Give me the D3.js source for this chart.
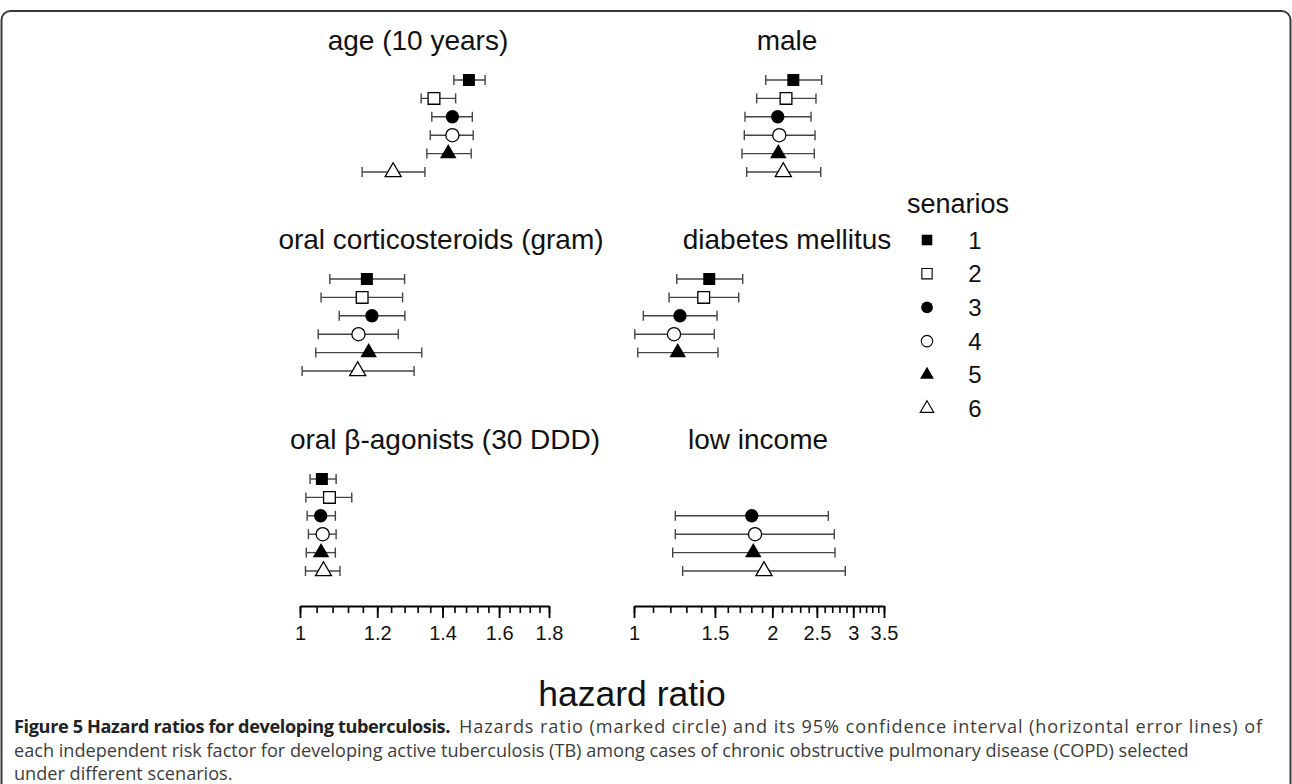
<!DOCTYPE html>
<html>
<head>
<meta charset="utf-8">
<script src="https://cdn.jsdelivr.net/npm/d3@7"></script>
<style>
  body { margin: 0; background: #fff; }
  svg text { font-family: "Liberation Sans", Arial, sans-serif; }
  svg text.caption { font-family: "Open Sans", "Noto Sans", sans-serif; }
</style>
</head>
<body>
<div class="chart"></div>
<script>
// scenario labels and risk factor names
var scenarios = ["1", "2", "3", "4", "5", "6"];
var factors = ["age (10 years)", "male", "oral corticosteroids (gram)",
  "diabetes mellitus", "oral \u03b2-agonists (30 DDD)", "low income"];

// [lower 95% CI, hazard ratio, upper 95% CI] per scenario (null = not in model)
var ageCI = [[1.438, 1.490, 1.548], [1.331, 1.372, 1.444], [1.365, 1.433, 1.502],
  [1.360, 1.433, 1.505], [1.349, 1.419, 1.498], [1.158, 1.246, 1.343]];
var maleCI = [[1.935, 2.222, 2.561], [1.849, 2.142, 2.489], [1.744, 2.055, 2.428],
  [1.738, 2.071, 2.477], [1.718, 2.061, 2.468], [1.759, 2.113, 2.549]];
var steroidCI = [[1.073, 1.171, 1.280], [1.051, 1.158, 1.274], [1.097, 1.185, 1.281],
  [1.044, 1.148, 1.261], [1.038, 1.176, 1.333], [1.005, 1.146, 1.309]];
var diabetesCI = [[1.239, 1.458, 1.724], [1.192, 1.418, 1.690], [1.048, 1.259, 1.516],
  [1.004, 1.222, 1.495], [1.019, 1.245, 1.523], null];
var agonistCI = [[1.024, 1.053, 1.089], [1.014, 1.072, 1.130], [1.017, 1.050, 1.087],
  [1.020, 1.055, 1.089], [1.015, 1.051, 1.087], [1.013, 1.057, 1.099]];
var incomeCI = [null, null, [1.230, 1.804, 2.648], [1.230, 1.834, 2.728],
  [1.214, 1.818, 2.738], [1.276, 1.918, 2.883]];

// axis ticks
var leftMajor = [1, 1.2, 1.4, 1.6, 1.8];
var leftMinor = d3.range(1, 1.8001, 0.04);
var rightMajor = [1, 1.5, 2, 2.5, 3, 3.5];
var rightMinor = d3.range(1, 3.5001, 0.1);

var captionBold = "Figure 5 Hazard ratios for developing tuberculosis.";
var captionLines = [
  "Hazards ratio (marked circle) and its 95% confidence interval (horizontal error lines) of",
  "each independent risk factor for developing active tuberculosis (TB) among cases of chronic obstructive pulmonary disease (COPD) selected",
  "under different scenarios."
];

var allCI = [ageCI, maleCI, steroidCI, diabetesCI, agonistCI, incomeCI];

var svg = d3.select(".chart").append("svg")
  .attr("width", 1292)
  .attr("height", 784);

// page frame
svg.append("rect")
  .attr("x", 1.5).attr("y", 11)
  .attr("width", 1289).attr("height", 900)
  .attr("rx", 9)
  .attr("fill", "none")
  .attr("stroke", "#3a3a3a")
  .attr("stroke-width", 2);

var xLeft = d3.scaleLog().domain([1, 1.8]).range([300, 549]);
var xRight = d3.scaleLog().domain([1, 3.5]).range([634, 884]);
var rowTops = [80, 279, 479];
var titleX = [418, 787, 441, 787, 445, 758];

var yRow = d3.scalePoint().domain(scenarios).range([0, 92]);

var shapes = [d3.symbolSquare, d3.symbolSquare, d3.symbolCircle, d3.symbolCircle,
  d3.symbolTriangle, d3.symbolTriangle];
var filled = [true, false, true, false, true, false];
var plotSize = [144, 138, 140, 136, 118, 112];
var legendSize = [112, 106, 108, 104, 84, 80];

allCI.forEach(function(ci, i) {
  var x = i % 2 === 0 ? xLeft : xRight;
  var top = rowTops[Math.floor(i / 2)];
  var panel = svg.append("g").attr("transform", `translate(0, ${top})`);

  panel.append("text")
    .attr("x", titleX[i])
    .attr("y", -30)
    .attr("text-anchor", "middle")
    .attr("font-size", 28)
    .attr("fill", "#111")
    .text(factors[i]);

  var rows = ci.map(function(d, j) { return { s: scenarios[j], j: j, v: d }; })
    .filter(function(d) { return d.v !== null; });

  var g = panel.selectAll(".row").data(rows).enter().append("g")
    .attr("transform", d => `translate(0, ${yRow(d.s)})`);

  g.append("line")
    .attr("x1", d => x(d.v[0])).attr("x2", d => x(d.v[2]))
    .attr("stroke", "#444").attr("stroke-width", 1.4);
  g.append("line")
    .attr("x1", d => x(d.v[0])).attr("x2", d => x(d.v[0]))
    .attr("y1", -5).attr("y2", 5)
    .attr("stroke", "#444").attr("stroke-width", 1.4);
  g.append("line")
    .attr("x1", d => x(d.v[2])).attr("x2", d => x(d.v[2]))
    .attr("y1", -5).attr("y2", 5)
    .attr("stroke", "#444").attr("stroke-width", 1.4);

  g.append("path")
    .attr("transform", d => `translate(${x(d.v[1])}, 0)`)
    .attr("d", d => d3.symbol().type(shapes[d.j]).size(plotSize[d.j])())
    .attr("fill", d => filled[d.j] ? "#000" : "#fff")
    .attr("stroke", "#000")
    .attr("stroke-width", d => filled[d.j] ? 0 : 1.3);
});

// bottom axes
function drawAxis(scale, major, minor) {
  var g = svg.append("g").attr("transform", "translate(0, 606)");
  g.append("g")
    .call(d3.axisBottom(scale).tickValues(minor).tickSize(7).tickSizeOuter(0).tickFormat(""))
    .call(a => a.select(".domain").remove())
    .selectAll("line").attr("stroke-width", 1.6);
  var maj = g.append("g")
    .call(d3.axisBottom(scale).tickValues(major).tickSize(12).tickSizeOuter(0)
      .tickPadding(8).tickFormat(d3.format("")));
  maj.select(".domain").attr("stroke-width", 2.2);
  maj.selectAll("line").attr("stroke-width", 1.8);
  maj.selectAll("text")
    .attr("font-size", 20)
    .attr("fill", "#111")
    .attr("font-family", "Liberation Sans, Arial, sans-serif");
}
drawAxis(xLeft, leftMajor, leftMinor);
drawAxis(xRight, rightMajor, rightMinor);

svg.append("text")
  .attr("x", 632)
  .attr("y", 706)
  .attr("text-anchor", "middle")
  .attr("font-size", 35.5)
  .attr("fill", "#111")
  .text("hazard ratio");

// legend
var legend = svg.append("g");
legend.append("text")
  .attr("x", 907).attr("y", 213)
  .attr("font-size", 27)
  .attr("fill", "#111")
  .text("senarios");

var yLegend = d3.scalePoint().domain(scenarios).range([240, 408.5]);
var item = legend.selectAll(".item").data(scenarios).enter().append("g")
  .attr("transform", d => `translate(0, ${yLegend(d)})`);
item.append("path")
  .attr("transform", "translate(927, 0)")
  .attr("d", (d, j) => d3.symbol().type(shapes[j]).size(legendSize[j])())
  .attr("fill", (d, j) => filled[j] ? "#000" : "#fff")
  .attr("stroke", "#000")
  .attr("stroke-width", (d, j) => filled[j] ? 0 : 1.1);
item.append("text")
  .attr("x", 975).attr("y", 8.5)
  .attr("text-anchor", "middle")
  .attr("font-size", 24)
  .attr("fill", "#111")
  .text(d => d);

// figure caption
var captionY = [733, 757, 780];
var cap = svg.selectAll(".caption").data(captionLines).enter().append("text")
  .attr("class", "caption")
  .attr("x", (d, i) => i === 0 ? 459 : 14)
  .attr("y", (d, i) => captionY[i])
  .attr("font-size", 16)
  .attr("fill", "#3c3c3c")
  .text(d => d);

// fit caption font to the printed line width
var w = cap.filter((d, i) => i === 1).node().getComputedTextLength();
var fs = 16 * 1175 / w;
cap.attr("font-size", fs);

// spread a caption piece to its printed width with letter spacing
function spread(sel, target) {
  var cw = sel.node().getComputedTextLength();
  sel.attr("letter-spacing", ((target - cw) / sel.text().length).toFixed(3));
}
spread(cap.filter((d, i) => i === 0), 804);

var bold = svg.append("text")
  .attr("class", "caption")
  .attr("x", 14).attr("y", captionY[0])
  .attr("font-size", fs)
  .attr("font-weight", "bold")
  .attr("fill", "#222")
  .text(captionBold);
spread(bold, 436);
</script>
</body>
</html>
